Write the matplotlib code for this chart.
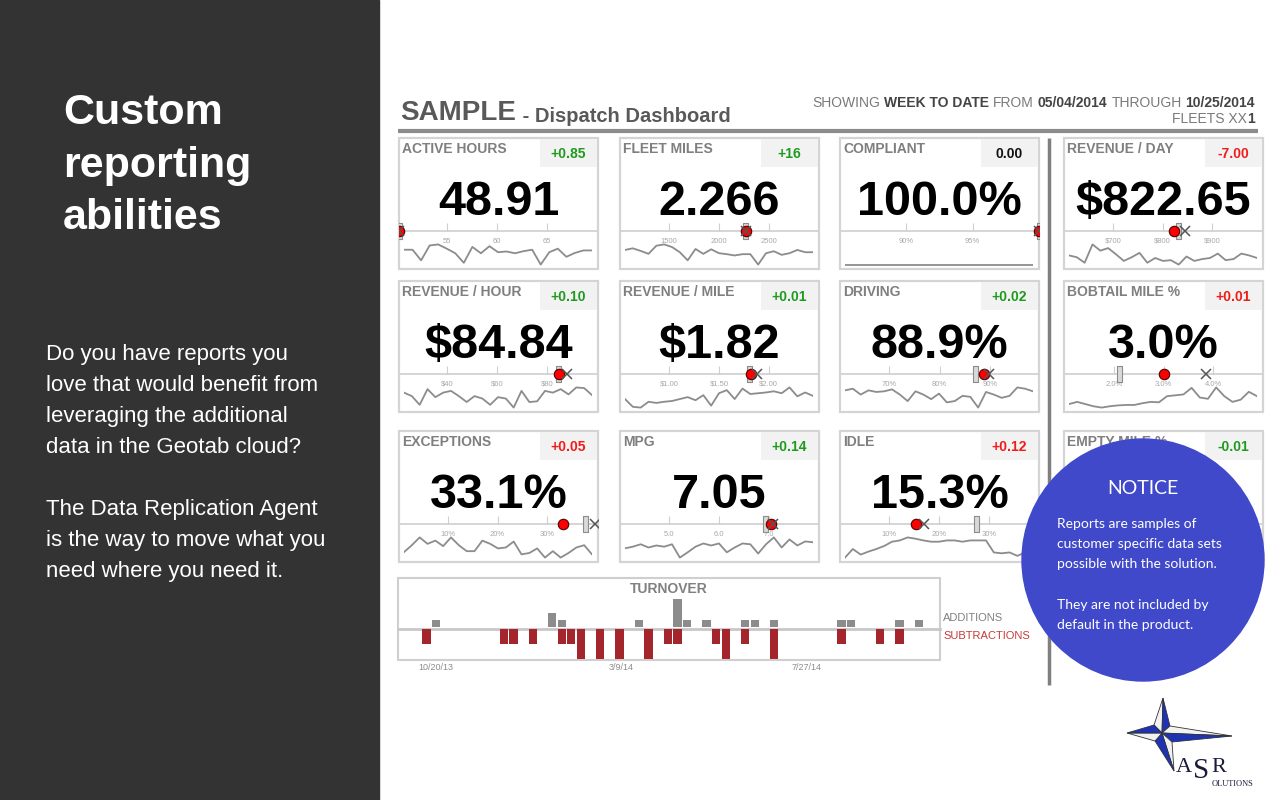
import numpy as np
import matplotlib
matplotlib.use('Agg')
import matplotlib.pyplot as plt
from matplotlib.patches import Rectangle, Circle, Polygon
from matplotlib import font_manager as fm

W, H = 1280, 800


def pick_font(*names):
    for n in names:
        try:
            fm.findfont(fm.FontProperties(family=n), fallback_to_default=False)
            return n
        except ValueError:
            pass
    return 'DejaVu Sans'


SANS = pick_font('Liberation Sans', 'Arial')
NOTICE_FONT = pick_font('Lato', 'Open Sans', 'Noto Sans')
SERIF = pick_font('Liberation Serif', 'DejaVu Serif')
plt.rcParams['font.family'] = SANS

# ---- KPI cards -------------------------------------------------------------
card_titles = ['ACTIVE HOURS', 'FLEET MILES', 'COMPLIANT', 'REVENUE / DAY',
               'REVENUE / HOUR', 'REVENUE / MILE', 'DRIVING', 'BOBTAIL MILE %',
               'EXCEPTIONS', 'MPG', 'IDLE', 'EMPTY MILE %']
card_values = ['48.91', '2.266', '100.0%', '$822.65',
               '$84.84', '$1.82', '88.9%', '3.0%',
               '33.1%', '7.05', '15.3%', '']
card_deltas = ['+0.85', '+16', '0.00', '-7.00',
               '+0.10', '+0.01', '+0.02', '+0.01',
               '+0.05', '+0.14', '+0.12', '-0.01']
delta_status = ['good', 'good', 'flat', 'bad',
                'good', 'good', 'good', 'bad',
                'bad', 'good', 'bad', 'good']

# bullet scale under each number
scale_ranges = [(50.2, 70.1), (1010, 3000), (85, 100), (601, 1003),
                (20.8, 100.4), (0.505, 2.505), (60.2, 99.8), (0.99, 5.01),
                (0.2, 40.2), (4.01, 8.01), (0.2, 40.0), None]
scale_ticks = [[55, 60, 65], [1500, 2000, 2500], [90, 95], [700, 800, 900],
               [40, 60, 80], [1.0, 1.5, 2.0], [70, 80, 90], [2.0, 3.0, 4.0],
               [10, 20, 30], [5.0, 6.0, 7.0], [10, 20, 30], []]
scale_labels = [['55', '60', '65'], ['1500', '2000', '2500'], ['90%', '95%'],
                ['$700', '$800', '$900'], ['$40', '$60', '$80'],
                ['$1.00', '$1.50', '$2.00'], ['70%', '80%', '90%'],
                ['2.0%', '3.0%', '4.0%'], ['10%', '20%', '30%'],
                ['5.0', '6.0', '7.0'], ['10%', '20%', '30%'], []]
current_vals = [48.91, 2266, 100.0, 822.65, 84.84, 1.82, 88.9, 3.0, 33.1, 7.05, 15.3, None]
target_vals = [49.5, 2258, 100.0, 832, 84.2, 1.80, 87.0, 2.1, 37.6, 6.92, 27.4, None]
prior_vals = [49.0, 2272, 100.0, 845, 88.0, 1.88, 89.8, 3.85, 39.6, 7.08, 17.0, None]

trend_active_hours = [52, 52, 22, 64, 67, 55, 42, 15, 60, 42, 62, 45, 47, 42, 48, 52, 10, 45, 55, 32, 43, 50, 50]
trend_fleet_miles = [55, 60, 52, 43, 68, 72, 64, 48, 23, 58, 43, 57, 45, 42, 38, 42, 42, 10, 45, 51, 40, 45, 55, 48, 48]
trend_compliant = [100.0, 100.0, 100.0, 100.0, 100.0, 100.0, 100.0, 100.0, 100.0, 100.0,
                   100.0, 100.0, 100.0, 100.0, 100.0, 100.0, 100.0, 100.0, 100.0, 100.0]
trend_revenue_day = [35, 30, 15, 65, 48, 55, 38, 20, 30, 42, 15, 28, 20, 22, 10, 32, 20, 25, 28, 40, 22, 25, 40, 35, 28]
trend_revenue_hour = [45, 35, 10, 55, 32, 45, 50, 35, 18, 35, 28, 10, 32, 28, 2, 50, 18, 20, 50, 45, 55, 40, 60, 58, 38]
trend_revenue_mile = [35, 15, 13, 28, 25, 28, 30, 35, 40, 32, 45, 18, 50, 58, 35, 62, 48, 50, 52, 55, 50, 65, 42, 52, 43]
trend_driving = [65, 70, 52, 65, 60, 62, 68, 52, 32, 62, 52, 38, 55, 28, 32, 48, 45, 12, 60, 52, 42, 48, 74, 70, 62]
trend_bobtail = [20, 25, 20, 15, 12, 15, 17, 18, 18, 22, 25, 24, 38, 40, 42, 57, 35, 32, 58, 38, 25, 30, 48, 38]
trend_exceptions = [20, 35, 52, 38, 45, 33, 52, 35, 22, 22, 45, 38, 28, 30, 43, 15, 18, 28, 8, 22, 8, 18, 30, 35, 15]
trend_mpg = [28, 32, 38, 30, 35, 32, 38, 5, 18, 32, 40, 35, 40, 18, 30, 40, 38, 15, 38, 55, 30, 50, 35, 45, 43]
trend_idle = [8, 28, 15, 22, 28, 35, 45, 48, 55, 52, 48, 45, 45, 48, 48, 45, 48, 48, 48, 20, 18, 20, 12, 20, 15]
card_trends = [trend_active_hours, trend_fleet_miles, trend_compliant, trend_revenue_day,
               trend_revenue_hour, trend_revenue_mile, trend_driving, trend_bobtail,
               trend_exceptions, trend_mpg, trend_idle, None]

# ---- turnover (weekly) -------------------------------------------------------
additions = [0, 1, 0, 0, 0, 0, 0, 0, 0, 0,
             0, 0, 0, 2, 1, 0, 0, 0, 0, 0,
             0, 0, 1, 0, 0, 0, 4, 1, 0, 1,
             0, 0, 0, 1, 1, 0, 1, 0, 0, 0,
             0, 0, 0, 1, 1, 0, 0, 0, 0, 1,
             0, 1]
subtractions = [1, 0, 0, 0, 0, 0, 0, 0, 1, 1,
                0, 1, 0, 0, 1, 1, 2, 0, 2, 0,
                2, 0, 0, 2, 0, 1, 1, 0, 0, 0,
                1, 2, 0, 1, 0, 0, 2, 0, 0, 0,
                0, 0, 0, 1, 0, 0, 0, 1, 0, 1,
                0, 0]
turnover_tick_pos = [0.93, 20.2, 39.4]
turnover_tick_labels = ['10/20/13', '3/9/14', '7/27/14']

panel_title = ['Custom', 'reporting', 'abilities']
panel_body = ['Do you have reports you', 'love that would benefit from',
              'leveraging the additional', 'data in the Geotab cloud?', '',
              'The Data Replication Agent', 'is the way to move what you',
              'need where you need it.']
notice_body = ['Reports are samples of', 'customer specific data sets',
               'possible with the solution.', '', 'They are not included by',
               'default in the product.']

DELTA_COLORS = {'good': '#1e9a1e', 'bad': '#f01c1c', 'flat': '#111111'}


def draw_dashboard():
    fig = plt.figure(figsize=(W / 100, H / 100), dpi=100)

    def px_axes(x, y, w, h):
        a = fig.add_axes([x / W, 1 - (y + h) / H, w / W, h / H])
        a.patch.set_visible(False)
        a.axis('off')
        return a

    bg = fig.add_axes([0, 0, 1, 1])
    bg.set_xlim(0, W)
    bg.set_ylim(H, 0)
    bg.axis('off')

    # left panel
    bg.add_patch(Rectangle((0, 0), 379, H, color='#333333', zorder=0))
    for i, line in enumerate(panel_title):
        bg.text(63, 124 + i * 52.5, line, fontsize=31, weight='bold', color='white', va='baseline')
    for i, line in enumerate(panel_body):
        bg.text(46, 360 + i * 31, line, fontsize=16, color='white', va='baseline')

    # header
    sample = bg.text(400, 120, 'SAMPLE', fontsize=20, weight='bold', color='#595959', va='baseline')
    bg.annotate(' - Dispatch Dashboard', xy=(1, 0), xycoords=sample, xytext=(1, 0),
                textcoords='offset points', ha='left', va='bottom',
                fontsize=14.5, weight='bold', color='#595959')

    def chain_right(pieces, x, y, size, gap):
        prev = None
        for txt, bold in reversed(pieces):
            kw = dict(fontsize=size, weight='bold' if bold else 'normal',
                      color='#444444' if bold else '#7a7a7a')
            if prev is None:
                prev = bg.text(x, y, txt, ha='right', va='baseline', **kw)
            else:
                prev = bg.annotate(txt, xy=(0, 0), xycoords=prev, xytext=(-gap, 0),
                                   textcoords='offset points', ha='right', va='bottom', **kw)

    chain_right([('SHOWING', False), ('WEEK TO DATE', True), ('FROM', False),
                 ('05/04/2014', True), ('THROUGH', False), ('10/25/2014', True)],
                1255, 107, 10, 2.8)
    chain_right([('FLEETS XX', False), ('1', True)], 1255, 123, 10, 0)

    bg.plot([398, 1258], [131, 131], color='#8c8c8c', lw=3, solid_capstyle='butt')
    bg.plot([1049, 1049], [138, 685], color='#7f7f7f', lw=2.5, solid_capstyle='butt')

    # cards
    col_x = [399, 620, 840, 1064]
    row_y = [138, 281, 431]
    cw, ch = 199, 131
    rect_marker = [(-0.3, -1), (0.3, -1), (0.3, 1), (-0.3, 1), (-0.3, -1)]
    for i, title in enumerate(card_titles):
        r, c = divmod(i, 4)
        x0, y0 = col_x[c], row_y[r]
        bg.add_patch(Rectangle((x0, y0), cw, ch, fc='white', ec='#d4d4d4', lw=1.6, zorder=1))
        bg.add_patch(Rectangle((x0 + 141, y0 + 1), 57, 28, fc='#f2f2f2', ec='none', zorder=2))
        bg.text(x0 + 3, y0 + 15, title, fontsize=10, weight='bold', color='#7f7f7f',
                va='baseline', zorder=3)
        bg.text(x0 + 169, y0 + 20, card_deltas[i], fontsize=10, weight='bold',
                color=DELTA_COLORS[delta_status[i]], ha='center', va='baseline', zorder=3)
        bg.text(x0 + cw / 2, y0 + 77, card_values[i], fontsize=35, weight='bold',
                color='black', ha='center', va='baseline', zorder=3)

        mx = px_axes(x0, y0 + 78, cw, 30)
        mx.set_ylim(0, 1)
        mx.axhline(0.5, color='#d2d2d2', lw=1.3)
        rng = scale_ranges[i]
        if rng is not None:
            lo, hi = rng
            mx.set_xlim(lo, hi)
            mx.vlines(scale_ticks[i], 0.5, 0.77, color='#cfcfcf', lw=0.8)
            for t, lab in zip(scale_ticks[i], scale_labels[i]):
                mx.text(t, 0.16, lab, ha='center', va='center', fontsize=5.5, color='#a8a8a8')
            mx.plot([np.clip(target_vals[i], lo, hi)], [0.5], marker=rect_marker, ms=12,
                    mfc='#d9d9d9', mec='#8c8c8c', mew=0.8, ls='none', zorder=3)
            mx.plot([np.clip(current_vals[i], lo, hi)], [0.5], 'o', ms=7.5,
                    mfc='#ff0000', mec='#4a0000', mew=0.8, zorder=4)
            mx.plot([np.clip(prior_vals[i], lo, hi)], [0.5], 'x', ms=7,
                    mec='#555555', mew=1.1, zorder=5)

        trend = card_trends[i]
        if trend is not None:
            sx = px_axes(x0 + 5, y0 + 104, 188, 25)
            sx.plot(np.arange(len(trend)), trend, color='#8c8c8c', lw=1.3)
            sx.set_xlim(0, len(trend) - 1)
            if max(trend) == min(trend):
                sx.set_ylim(trend[0] - 0.1, trend[0] + 1.0)
            else:
                sx.margins(x=0, y=0.12)

    # turnover panel
    bg.add_patch(Rectangle((398, 578), 542, 82, fc='white', ec='#cfcfcf', lw=1.5, zorder=1))
    bg.plot([398, 940], [628.5, 628.5], color='#c8c8c8', lw=2, zorder=2)
    bg.text(669, 593, 'TURNOVER', ha='center', va='baseline', fontsize=10,
            weight='bold', color='#808080', zorder=3)
    bg.text(943, 618, 'ADDITIONS', va='center', fontsize=8, color='#808080')
    bg.text(943, 636, 'SUBTRACTIONS', va='center', fontsize=8, color='#c43c3c')

    weeks = np.arange(len(additions))
    tx_lim = (-2.96, 53.2)
    ta = px_axes(398, 599, 542, 28)
    ta.bar(weeks, additions, width=0.85, color='#8c8c8c')
    ta.set_xlim(*tx_lim)
    ta.set_ylim(0, max(additions))

    ts = fig.add_axes([398 / W, 1 - 659 / H, 542 / W, 30 / H])
    ts.patch.set_visible(False)
    ts.bar(weeks, subtractions, width=0.85, color='#a4262c')
    ts.set_xlim(*tx_lim)
    ts.set_ylim(max(subtractions), 0)
    for s in ts.spines.values():
        s.set_visible(False)
    ts.set_yticks([])
    ts.set_xticks(turnover_tick_pos, turnover_tick_labels)
    ts.tick_params(axis='x', length=0, pad=3, labelsize=6.5, labelcolor='#8c8c8c')

    # overlay: notice bubble and logo
    ov = fig.add_axes([0, 0, 1, 1])
    ov.set_xlim(0, W)
    ov.set_ylim(H, 0)
    ov.patch.set_visible(False)
    ov.axis('off')
    ov.add_patch(Circle((1143, 560), 121, color='#3f49c9'))
    ov.text(1143, 494, 'NOTICE', ha='center', va='baseline', fontsize=14,
            color='white', family=NOTICE_FONT)
    for i, line in enumerate(notice_body):
        ov.text(1057, 528 + i * 20.25, line, va='baseline', fontsize=10,
                color='white', family=NOTICE_FONT)

    # ASR Solutions logo
    cx, cy = 1162, 733
    tips = [(1163, 698), (1232, 736), (1174, 771), (1127, 733)]
    inner = [(1170, 726), (1172, 742), (1155, 741), (1154, 725)]
    for k in range(4):
        tip = tips[k]
        after = inner[k]
        before = inner[k - 1]
        ov.add_patch(Polygon([(cx, cy), before, tip], closed=True, fc='#f2f2f2',
                             ec='#333333', lw=0.6))
        ov.add_patch(Polygon([(cx, cy), tip, after], closed=True, fc='#1f32b4',
                             ec='#333333', lw=0.6))
    ov.text(1176, 772, 'A', fontsize=16, family=SERIF, color='#1a1a3a', va='baseline')
    ov.text(1193, 778, 'S', fontsize=21, family=SERIF, color='#1a1a3a', va='baseline')
    ov.text(1211, 772, 'R', fontsize=16, family=SERIF, color='#1a1a3a', va='baseline')
    ov.text(1212, 786, 'OLUTIONS', fontsize=6, family=SERIF, color='#1a1a3a', va='baseline')

    fig.savefig('out.png', dpi=100)


if __name__ == "__main__":
    draw_dashboard()
